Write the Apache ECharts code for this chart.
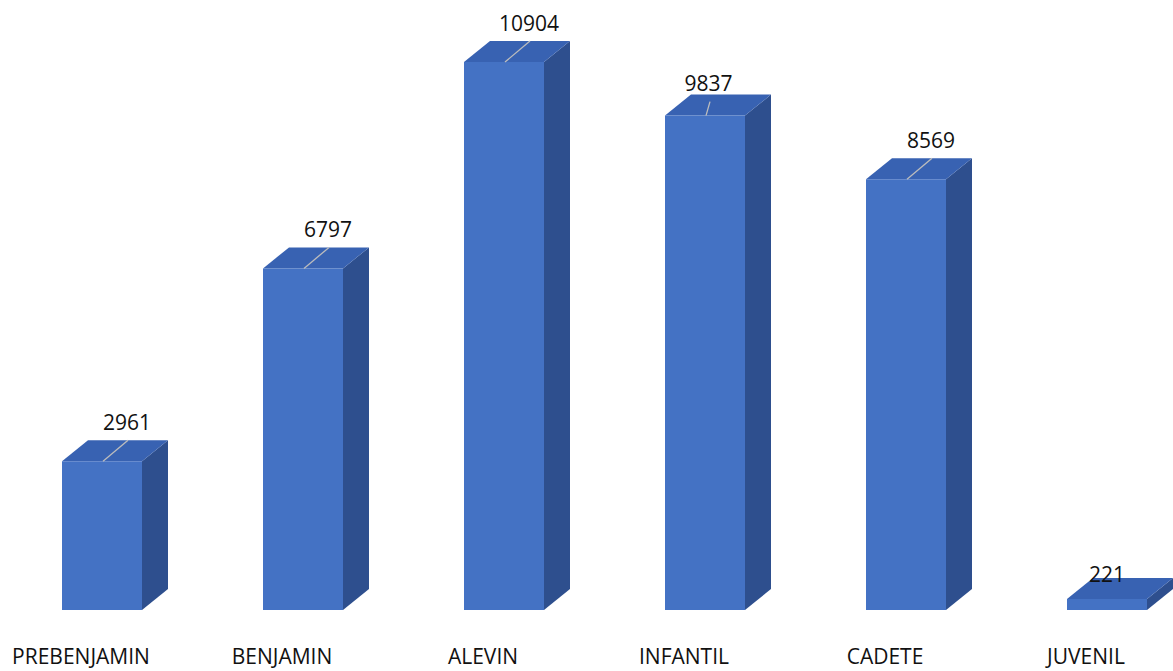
<!DOCTYPE html>
<html>
<head>
<meta charset="utf-8">
<script src="https://cdn.jsdelivr.net/npm/echarts@6/dist/echarts.min.js"></script>
<style>
  html, body { margin: 0; padding: 0; background: #ffffff; }
  #chart { width: 1173px; height: 671px; }
</style>
</head>
<body>
<div id="chart"></div>
<script>
// ---- data ----
const categories = ['PREBENJAMIN', 'BENJAMIN', 'ALEVIN', 'INFANTIL', 'CADETE', 'JUVENIL'];
const values = [2961, 6797, 10904, 9837, 8569, 221];

// ---- style ----
const FRONT = '#4472C4';
const SIDE = '#2E4F8E';
const TOP = '#3862B2';
const DEPTH_X = 26;
const DEPTH_Y = -21;
const FONT = '"Open Sans", "Noto Sans", sans-serif';
const defaultLabel = { lx: 26, ly: -21, tx: 25, ty: -39, line: true };
const labelOverrides = {
  'INFANTIL': { lx: 5, ly: -14, tx: 3.5, ty: -32.5, line: true },
  'JUVENIL': { lx: 0, ly: 0, tx: 0, ty: -25, line: false }
};

const chart = echarts.init(document.getElementById('chart'), null, { renderer: 'svg' });

const seriesData = categories.map((c, i) => [i, values[i]]);

function renderItem(params, api) {
  const i = api.value(0);
  const v = api.value(1);
  const top = api.coord([i, v]);
  const base = api.coord([i, 0]);
  const bw = api.size([1, 0])[0] * 0.398;
  const cx = top[0];
  const x0 = cx - bw / 2, x1 = cx + bw / 2;
  const yT = top[1], yB = base[1];
  const lab = labelOverrides[categories[i]] || defaultLabel;
  const children = [
    { type: 'polygon', shape: { points: [[x1, yT], [x1 + DEPTH_X, yT + DEPTH_Y], [x1 + DEPTH_X, yB + DEPTH_Y], [x1, yB]] },
      style: { fill: SIDE } },
    { type: 'polygon', shape: { points: [[x0, yT], [x0 + DEPTH_X, yT + DEPTH_Y], [x1 + DEPTH_X, yT + DEPTH_Y], [x1, yT]] },
      style: { fill: TOP } },
    { type: 'rect', shape: { x: x0, y: yT, width: bw, height: yB - yT },
      style: { fill: FRONT } }
  ];
  if (lab.line) {
    children.push({ type: 'line', shape: { x1: cx + 1, y1: yT, x2: cx + lab.lx, y2: yT + lab.ly },
      style: { stroke: '#BDBDBD', lineWidth: 1.3 } });
  }
  children.push({ type: 'text', x: cx + lab.tx, y: yT + lab.ty,
    style: { text: String(v), fill: '#111111', font: '21px ' + FONT, align: 'center', verticalAlign: 'middle' } });
  return { type: 'group', children };
}

const option = {
  backgroundColor: '#ffffff',
  animation: false,
  grid: { left: 1.5, width: 1206, top: 610 - 548 * 12000 / 10904, bottom: 61, outerBoundsMode: 'none', containLabel: false },
  xAxis: {
    type: 'category',
    data: categories,
    axisLine: { show: false },
    axisTick: { show: false },
    splitLine: { show: false },
    axisLabel: {
      color: '#111111',
      fontFamily: '"Open Sans", "Noto Sans", sans-serif',
      fontSize: 21,
      margin: 35,
      padding: [0, 42, 0, 0],
      interval: 0,
      hideOverlap: false
    }
  },
  yAxis: {
    type: 'value',
    min: 0,
    max: 12000,
    show: false,
    splitLine: { show: false }
  },
  series: [{
    type: 'custom',
    renderItem: renderItem,
    data: seriesData,
    encode: { x: 0, y: 1 },
    clip: false
  }]
};
chart.setOption(option);
</script>
</body>
</html>
